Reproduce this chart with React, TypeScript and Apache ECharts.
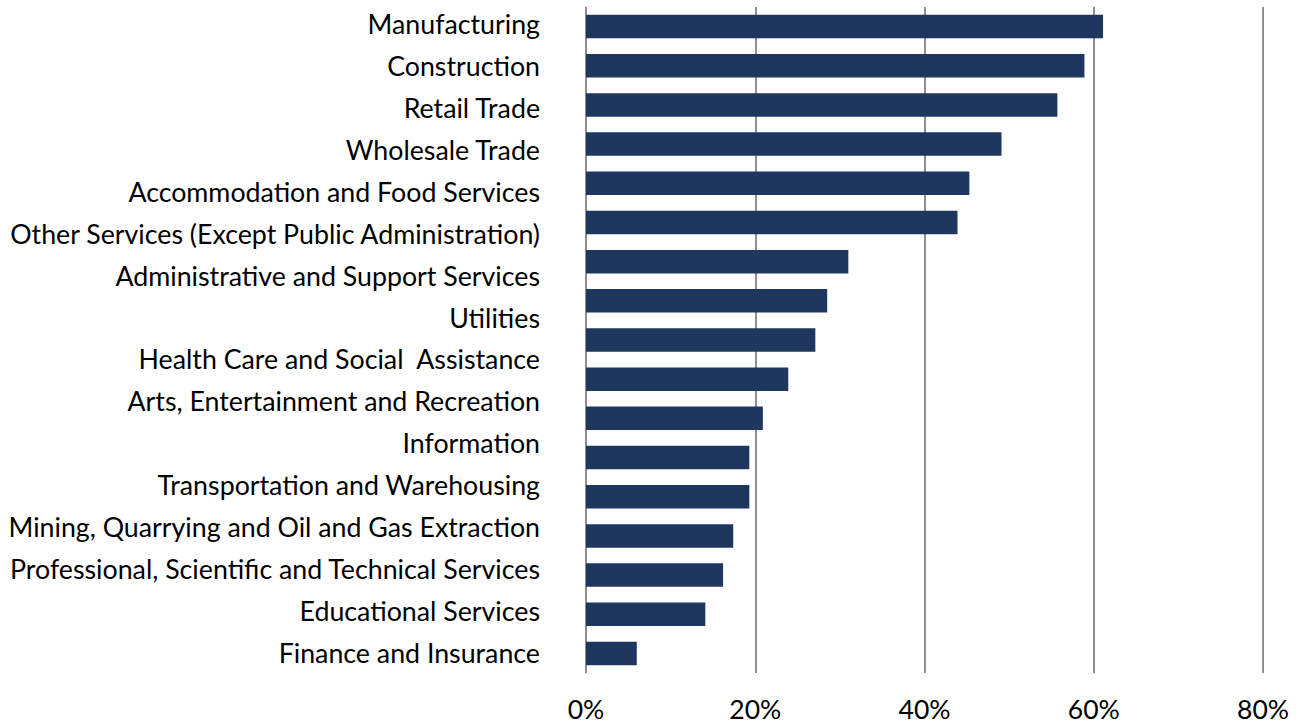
import React, { useEffect, useRef } from "react";
import * as echarts from "echarts";

const industryLabels: string[] = [
  "Manufacturing",
  "Construction",
  "Retail Trade",
  "Wholesale Trade",
  "Accommodation and Food Services",
  "Other Services (Except Public Administration)",
  "Administrative and Support Services",
  "Utilities",
  "Health Care and Social  Assistance",
  "Arts, Entertainment and Recreation",
  "Information",
  "Transportation and Warehousing",
  "Mining, Quarrying and Oil and Gas Extraction",
  "Professional, Scientific and Technical Services",
  "Educational Services",
  "Finance and Insurance",
];

const barValues: number[] = [
  61.1, 58.9, 55.7, 49.1, 45.3, 43.9, 31.0, 28.5, 27.1, 23.9, 20.9, 19.3, 19.3,
  17.4, 16.2, 14.1, 6.0,
];

const barSlots: string[] = barValues.map((_, i) => `bar${i + 1}`);

const xTicks = { min: 0, max: 80, interval: 20 };

export default function App() {
  const ref = useRef<HTMLDivElement>(null);

  useEffect(() => {
    if (!ref.current) return;
    const chart = echarts.init(ref.current, undefined, { renderer: "svg" });
    const font = "Lato, 'Open Sans', sans-serif";
    chart.setOption({
      animation: false,
      backgroundColor: "#ffffff",
      grid: [
        { left: 586, right: 41, top: 7, bottom: 53, containLabel: false },
        { left: 586, right: 41, top: 3, bottom: 52, containLabel: false },
      ],
      xAxis: [
        {
          type: "value",
          gridIndex: 0,
          min: xTicks.min,
          max: xTicks.max,
          interval: xTicks.interval,
          axisLine: { show: false },
          axisTick: { show: false },
          splitLine: { show: true, lineStyle: { color: "#8f8f8f", width: 2 } },
          axisLabel: {
            formatter: "{value}%",
            fontFamily: font,
            fontSize: 26.5,
            lineHeight: 20,
            color: "#000000",
            margin: 26,
          },
        },
        {
          type: "value",
          gridIndex: 1,
          min: xTicks.min,
          max: xTicks.max,
          show: false,
        },
      ],
      yAxis: [
        {
          type: "category",
          gridIndex: 0,
          inverse: true,
          data: barSlots,
          axisLine: { show: false },
          axisTick: { show: false },
          axisLabel: { show: false },
          splitLine: { show: false },
        },
        {
          type: "category",
          gridIndex: 1,
          inverse: true,
          data: industryLabels,
          axisLine: { show: false },
          axisTick: { show: false },
          splitLine: { show: false },
          axisLabel: {
            fontFamily: font,
            fontSize: 26.75,
            color: "#000000",
            margin: 46,
            interval: 0,
          },
        },
      ],
      series: [
        {
          type: "bar",
          xAxisIndex: 0,
          yAxisIndex: 0,
          data: barValues,
          barWidth: "60%",
          itemStyle: { color: "#1f365f" },
          silent: true,
        },
        {
          type: "bar",
          xAxisIndex: 1,
          yAxisIndex: 1,
          data: [],
          silent: true,
        },
      ],
    });
    return () => chart.dispose();
  }, []);

  return (
    <div
      ref={ref}
      style={{ position: "fixed", left: 0, top: 0, width: 1304, height: 726 }}
    />
  );
}
